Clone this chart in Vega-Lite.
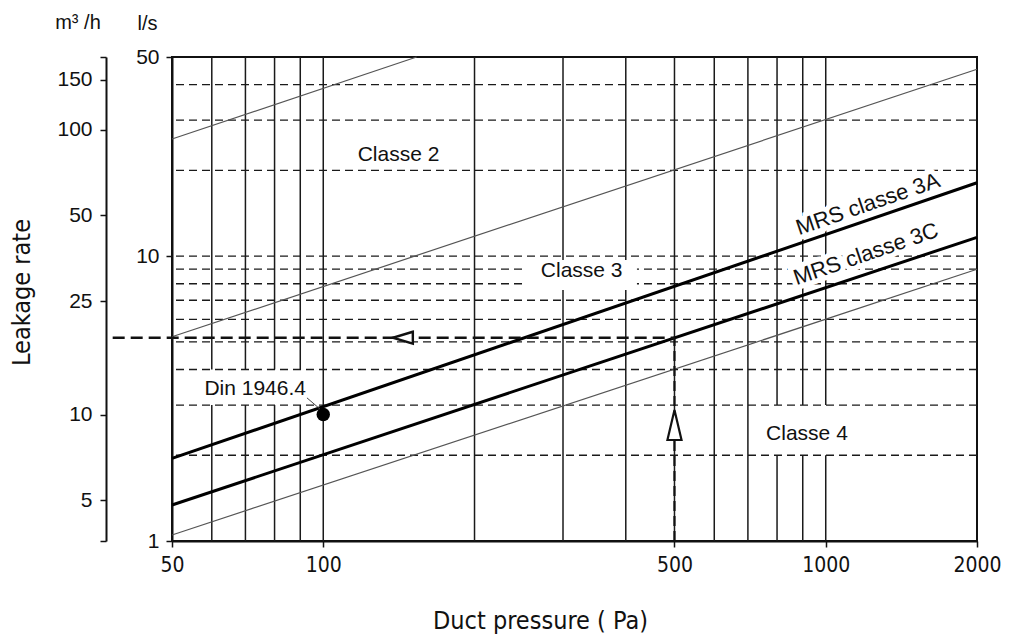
{
  "$schema": "https://vega.github.io/schema/vega-lite/v6.json",
  "width": 805,
  "height": 484,
  "autosize": {"type": "none"},
  "padding": {"left": 172, "top": 57, "right": 33, "bottom": 100},
  "background": "white",
  "config": {"view": {"stroke": "#111", "strokeWidth": 2}, "font": "Liberation Sans"},
  "datasets": {
    "vgrid": [{"pa": 60}, {"pa": 70}, {"pa": 80}, {"pa": 90}, {"pa": 100}, {"pa": 200}, {"pa": 300}, {"pa": 400}, {"pa": 500}, {"pa": 600}, {"pa": 700}, {"pa": 800}, {"pa": 900}, {"pa": 1000}],
    "hgrid": [{"ls": 2}, {"ls": 3}, {"ls": 4}, {"ls": 5}, {"ls": 6}, {"ls": 7}, {"ls": 8}, {"ls": 9}, {"ls": 10}, {"ls": 20}, {"ls": 30}, {"ls": 40}],
    "masks": [{"name": "Din", "pa": 51, "pa2": 95, "ls": 3, "ls2": 4}, {"name": "Classe 4", "pa": 723, "pa2": 1143, "ls": 2, "ls2": 3}],
    "masks2": [{"name": "Classe 3", "pa": 254, "pa2": 421, "ls": 7.6, "ls2": 9.69}],
    "curves": [
      {"series": "C2 upper", "pa": 50, "ls": 25.77}, {"series": "C2 upper", "pa": 153.4, "ls": 50},
      {"series": "C2/C3", "pa": 50, "ls": 5.21}, {"series": "C2/C3", "pa": 2000, "ls": 45.3},
      {"series": "MRS classe 3A", "pa": 50, "ls": 1.95}, {"series": "MRS classe 3A", "pa": 2000, "ls": 18.1},
      {"series": "MRS classe 3C", "pa": 50, "ls": 1.338}, {"series": "MRS classe 3C", "pa": 2000, "ls": 11.64},
      {"series": "C3/C4", "pa": 50, "ls": 1.05}, {"series": "C3/C4", "pa": 2000, "ls": 8.99}
    ],
    "labels": [
      {"text": "Classe 2", "pa": 141.2, "ls": 21.62},
      {"text": "Classe 3", "pa": 326.8, "ls": 8.47},
      {"text": "Classe 4", "pa": 917.5, "ls": 2.262},
      {"text": "Din 1946.4", "pa": 73.2, "ls": 3.253}
    ],
    "rotlabels": [
      {"text": "MRS classe 3A", "pa": 1213, "ls": 15.23},
      {"text": "MRS classe 3C", "pa": 1202, "ls": 10.17}
    ],
    "vline": [{"pa": 500, "ls": 1, "ls2": 5.17}],
    "hline": [{"pa": 38.1, "pa2": 500, "ls": 5.17}],
    "arrows": [{"dir": "left", "pa": 144, "ls": 5.17}, {"dir": "up", "pa": 500, "ls": 2.554}],
    "din": [{"pa": 100, "ls": 2.78}],
    "leader": [{"pa": 92.8, "ls": 3.18}, {"pa": 99, "ls": 2.884}],
    "header": [{"text": "m³ /h", "pa": 32.5, "ls": 62.7}]
  },
  "layer": [
    {
      "data": {"name": "vgrid"},
      "mark": {"type": "rule", "color": "#1a1a1a", "strokeWidth": 1.5},
      "encoding": {
        "x": {
          "field": "pa", "type": "quantitative",
          "scale": {"type": "log", "domain": [50, 2000], "nice": false},
          "axis": {
            "orient": "bottom", "values": [50, 100, 500, 1000, 2000], "format": "d", "grid": false,
            "domainColor": "#111", "domainWidth": 2, "tickSize": 6, "tickColor": "#111", "tickWidth": 1.5,
            "labelFont": "DejaVu Sans Condensed, Liberation Sans, sans-serif", "labelFontSize": 21, "labelColor": "#111", "labelPadding": 7,
            "labelFlush": false, "labelOverlap": false,
            "title": "Duct pressure ( Pa)", "titleFont": "DejaVu Sans Condensed, Liberation Sans, sans-serif", "titleFontSize": 25,
            "titleFontWeight": "normal", "titleColor": "#111", "titleX": 368, "titleY": 87, "titleAlign": "center", "titleBaseline": "alphabetic"
          }
        }
      }
    },
    {
      "data": {"name": "masks"},
      "mark": {"type": "rect", "color": "white"},
      "encoding": {
        "x": {"field": "pa", "type": "quantitative", "scale": {"type": "log", "domain": [50, 2000], "nice": false}, "axis": null},
        "x2": {"field": "pa2"},
        "y": {"field": "ls", "type": "quantitative", "scale": {"type": "log", "domain": [1, 50], "nice": false}, "axis": null},
        "y2": {"field": "ls2"}
      }
    },
    {
      "data": {"name": "hgrid"},
      "mark": {"type": "rule", "color": "#1a1a1a", "strokeWidth": 1.3, "strokeDash": [8, 5]},
      "encoding": {
        "y": {
          "field": "ls", "type": "quantitative",
          "scale": {"type": "log", "domain": [1, 50], "nice": false},
          "axis": {
            "orient": "left", "values": [1, 10, 50], "format": "d", "grid": false,
            "domainColor": "#111", "domainWidth": 2, "tickSize": 6, "tickColor": "#111", "tickWidth": 1.5,
            "labelFont": "Liberation Sans", "labelFontSize": 21, "labelColor": "#111", "labelPadding": 7,
            "labelFlush": false, "labelOverlap": false,
            "title": "l/s", "titleAngle": 0, "titleAlign": "center", "titleBaseline": "alphabetic",
            "titleX": -25, "titleY": -28, "titleFont": "Liberation Sans", "titleFontSize": 20,
            "titleFontWeight": "normal", "titleColor": "#111"
          }
        }
      }
    },
    {
      "data": {"name": "masks2"},
      "mark": {"type": "rect", "color": "white"},
      "encoding": {
        "x": {"field": "pa", "type": "quantitative", "scale": {"type": "log", "domain": [50, 2000], "nice": false}, "axis": null},
        "x2": {"field": "pa2"},
        "y": {"field": "ls", "type": "quantitative", "scale": {"type": "log", "domain": [1, 50], "nice": false}, "axis": null},
        "y2": {"field": "ls2"}
      }
    },
    {
      "data": {"name": "rotlabels"},
      "mark": {"type": "text", "fontSize": 22, "angle": -19, "align": "center", "baseline": "middle", "fill": "white", "stroke": "white", "strokeWidth": 10},
      "encoding": {
        "x": {"field": "pa", "type": "quantitative", "scale": {"type": "log", "domain": [50, 2000], "nice": false}, "axis": null},
        "y": {"field": "ls", "type": "quantitative", "scale": {"type": "log", "domain": [1, 50], "nice": false}, "axis": null},
        "text": {"field": "text"}
      }
    },
    {
      "data": {"name": "curves"},
      "transform": [{"filter": "indexof(datum.series, 'MRS') < 0"}],
      "mark": {"type": "line", "color": "#555", "strokeWidth": 1.2},
      "encoding": {
        "x": {"field": "pa", "type": "quantitative", "scale": {"type": "log", "domain": [50, 2000], "nice": false}, "axis": null},
        "y": {"field": "ls", "type": "quantitative", "scale": {"type": "log", "domain": [1, 50], "nice": false}, "axis": null},
        "detail": {"field": "series", "type": "nominal"}
      }
    },
    {
      "data": {"name": "curves"},
      "transform": [{"filter": "indexof(datum.series, 'MRS') >= 0"}],
      "mark": {"type": "line", "color": "#000", "strokeWidth": 3},
      "encoding": {
        "x": {"field": "pa", "type": "quantitative", "scale": {"type": "log", "domain": [50, 2000], "nice": false}, "axis": null},
        "y": {"field": "ls", "type": "quantitative", "scale": {"type": "log", "domain": [1, 50], "nice": false}, "axis": null},
        "detail": {"field": "series", "type": "nominal"}
      }
    },
    {
      "data": {"name": "vline"},
      "mark": {"type": "rule", "color": "#111", "strokeWidth": 2.2, "strokeDash": [10, 5]},
      "encoding": {
        "x": {"field": "pa", "type": "quantitative", "scale": {"type": "log", "domain": [50, 2000], "nice": false}, "axis": null},
        "y": {"field": "ls", "type": "quantitative", "scale": {"type": "log", "domain": [1, 50], "nice": false}, "axis": null},
        "y2": {"field": "ls2"}
      }
    },
    {
      "data": {"name": "hline"},
      "mark": {"type": "rule", "color": "#111", "strokeWidth": 2.4, "strokeDash": [12, 6]},
      "encoding": {
        "x": {"field": "pa", "type": "quantitative", "scale": {"type": "log", "domain": [50, 2000], "nice": false}, "axis": null},
        "x2": {"field": "pa2"},
        "y": {
          "field": "ls", "type": "quantitative",
          "scale": {"type": "log", "domain": [1, 50], "nice": false},
          "axis": {
            "orient": "left", "offset": 66,
            "values": [1, 1.38889, 2.77778, 6.94444, 13.8889, 27.7778, 41.6667, 50],
            "labelExpr": "datum.value <= 1 || datum.value >= 50 ? '' : format(datum.value * 3.6, '.0f')", "grid": false,
            "domainColor": "#111", "domainWidth": 2, "tickSize": 6, "tickColor": "#111", "tickWidth": 1.5,
            "labelFont": "Liberation Sans", "labelFontSize": 21, "labelColor": "#111", "labelPadding": 8,
            "labelFlush": false, "labelOverlap": false,
            "title": "Leakage rate", "titleAngle": 270, "titleAlign": "center", "titleBaseline": "middle",
            "titleX": -85, "titleY": 235, "titleFont": "DejaVu Sans Condensed, Liberation Sans, sans-serif", "titleFontSize": 25,
            "titleFontWeight": "normal", "titleColor": "#111"
          }
        }
      }
    },
    {
      "data": {"name": "arrows"},
      "transform": [{"filter": "datum.dir === 'left'"}],
      "mark": {"type": "point", "shape": "M1,-0.6L-1,0L1,0.6Z", "size": 400, "filled": true, "fill": "white", "stroke": "#111", "strokeWidth": 2.4, "opacity": 1},
      "encoding": {
        "x": {"field": "pa", "type": "quantitative", "scale": {"type": "log", "domain": [50, 2000], "nice": false}, "axis": null},
        "y": {"field": "ls", "type": "quantitative", "scale": {"type": "log", "domain": [1, 50], "nice": false}, "axis": null}
      }
    },
    {
      "data": {"name": "arrows"},
      "transform": [{"filter": "datum.dir === 'up'"}],
      "mark": {"type": "point", "shape": "M-0.47,1L0,-1L0.47,1Z", "size": 900, "filled": true, "fill": "white", "stroke": "#111", "strokeWidth": 2.2, "opacity": 1},
      "encoding": {
        "x": {"field": "pa", "type": "quantitative", "scale": {"type": "log", "domain": [50, 2000], "nice": false}, "axis": null},
        "y": {"field": "ls", "type": "quantitative", "scale": {"type": "log", "domain": [1, 50], "nice": false}, "axis": null}
      }
    },
    {
      "data": {"name": "leader"},
      "mark": {"type": "line", "color": "#444", "strokeWidth": 1},
      "encoding": {
        "x": {"field": "pa", "type": "quantitative", "scale": {"type": "log", "domain": [50, 2000], "nice": false}, "axis": null},
        "y": {"field": "ls", "type": "quantitative", "scale": {"type": "log", "domain": [1, 50], "nice": false}, "axis": null}
      }
    },
    {
      "data": {"name": "din"},
      "mark": {"type": "circle", "size": 180, "color": "#000", "opacity": 1},
      "encoding": {
        "x": {"field": "pa", "type": "quantitative", "scale": {"type": "log", "domain": [50, 2000], "nice": false}, "axis": null},
        "y": {"field": "ls", "type": "quantitative", "scale": {"type": "log", "domain": [1, 50], "nice": false}, "axis": null}
      }
    },
    {
      "data": {"name": "labels"},
      "mark": {"type": "text", "fontSize": 21, "align": "center", "baseline": "alphabetic", "color": "#111"},
      "encoding": {
        "x": {"field": "pa", "type": "quantitative", "scale": {"type": "log", "domain": [50, 2000], "nice": false}, "axis": null},
        "y": {"field": "ls", "type": "quantitative", "scale": {"type": "log", "domain": [1, 50], "nice": false}, "axis": null},
        "text": {"field": "text"}
      }
    },
    {
      "data": {"name": "rotlabels"},
      "mark": {"type": "text", "fontSize": 22, "angle": -19, "align": "center", "baseline": "middle", "color": "#111"},
      "encoding": {
        "x": {"field": "pa", "type": "quantitative", "scale": {"type": "log", "domain": [50, 2000], "nice": false}, "axis": null},
        "y": {"field": "ls", "type": "quantitative", "scale": {"type": "log", "domain": [1, 50], "nice": false}, "axis": null},
        "text": {"field": "text"}
      }
    },
    {
      "data": {"name": "header"},
      "mark": {"type": "text", "fontSize": 20, "align": "center", "baseline": "alphabetic", "color": "#111"},
      "encoding": {
        "x": {"field": "pa", "type": "quantitative", "scale": {"type": "log", "domain": [50, 2000], "nice": false}, "axis": null},
        "y": {"field": "ls", "type": "quantitative", "scale": {"type": "log", "domain": [1, 50], "nice": false}, "axis": null},
        "text": {"field": "text"}
      }
    }
  ],
  "resolve": {
    "scale": {"x": "independent", "y": "independent"},
    "axis": {"x": "independent", "y": "independent"}
  }
}
